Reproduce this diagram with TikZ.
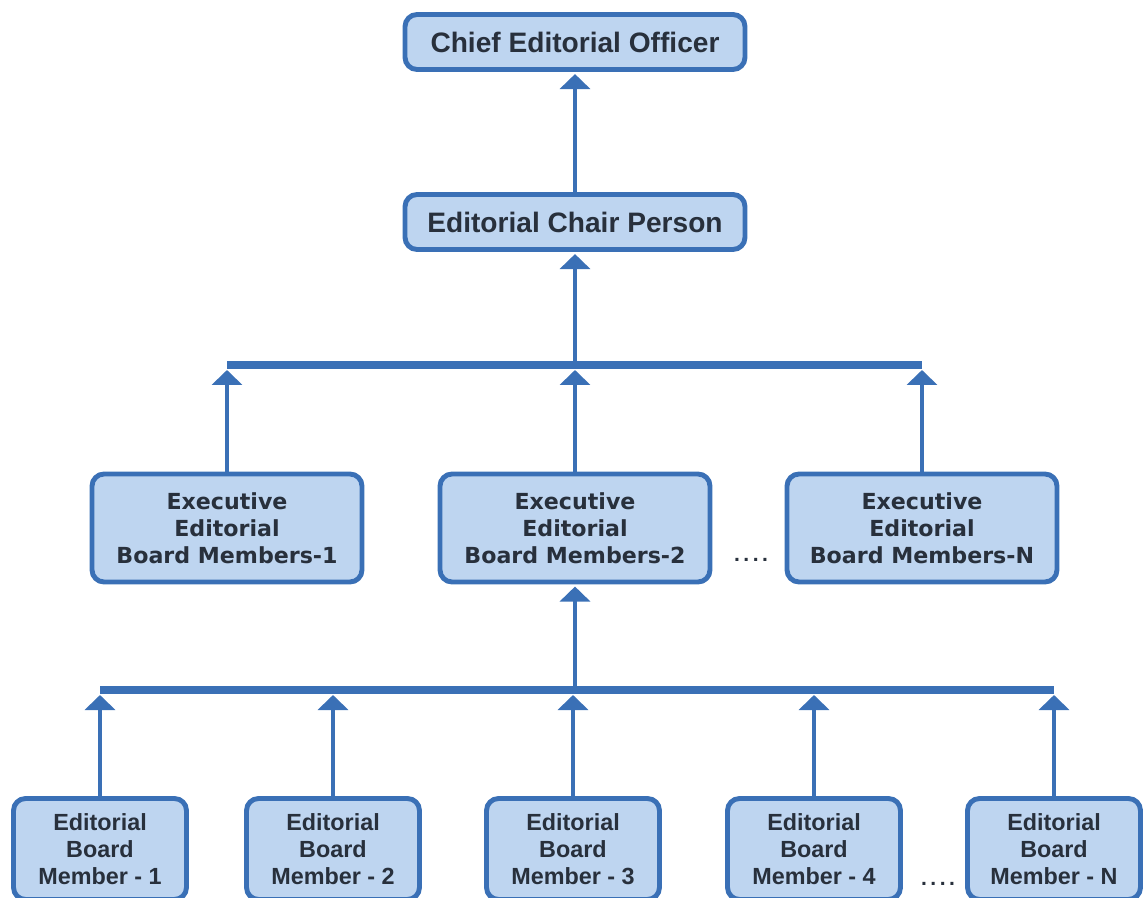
\documentclass[tikz,border=0pt]{standalone}
\usepackage{fontspec}
\setmainfont{Liberation Sans}
\newfontfamily\execfont{DejaVu Sans}
\usetikzlibrary{arrows.meta,positioning}
\definecolor{boxfill}{RGB}{190,213,240}
\definecolor{boxline}{RGB}{58,112,182}
\definecolor{boxtext}{RGB}{40,48,60}

\begin{document}
\begin{tikzpicture}[
    x=0.02cm, y=-0.02cm,
    box/.style={rectangle, draw=boxline, fill=boxfill, line width=2.8pt, rounded corners=0.24cm, align=center, text=boxtext},
    headbox/.style={box, minimum width=6.8cm, minimum height=1.1cm, font=\bfseries\fontsize{16}{19}\selectfont},
    execbox/.style={box, minimum width=5.4cm, minimum height=2.16cm, font=\execfont\bfseries\fontsize{12.6}{15.5}\selectfont},
    memberbox/.style={box, minimum width=3.46cm, minimum height=2.02cm, font=\bfseries\fontsize{13.3}{15.4}\selectfont},
    arrow/.style={-{Triangle[width=0.6cm, length=0.3cm]}, line width=2.8pt, draw=boxline},
    bus/.style={line width=4.8pt, draw=boxline},
    dots/.style={text=boxtext, font=\bfseries\fontsize{12}{14}\selectfont}
]
    \useasboundingbox (0,0) rectangle (1146,898);

    \node[headbox] (CEO) at (575,42) {Chief Editorial Officer};
    \node[headbox] (chair) at (575,222) {Editorial Chair Person};

    \node[execbox] (E1) at (227,528) {Executive\\Editorial\\Board Members-1};
    \node[execbox] (E2) at (575,528) {Executive\\Editorial\\Board Members-2};
    \node[execbox] (EN) at (922,528) {Executive\\Editorial\\Board Members-N};
    \node[dots] (Edots) at (751,560) {.\kern2pt.\kern2pt.\kern2pt.};

    \node[memberbox] (M1) at (100,849) {Editorial\\Board\\Member - 1};
    \node[memberbox] (M2) at (333,849) {Editorial\\Board\\Member - 2};
    \node[memberbox] (M3) at (573,849) {Editorial\\Board\\Member - 3};
    \node[memberbox] (M4) at (814,849) {Editorial\\Board\\Member - 4};
    \node[memberbox] (MN) at (1054,849) {Editorial\\Board\\Member - N};
    \node[dots] (Mdots) at (938,884) {.\kern2pt.\kern2pt.\kern2pt.};

    \coordinate (busA) at (575,365);
    \coordinate (busB) at (575,690);

    % chair -> chief
    \draw[arrow, shorten >=1.2pt] (chair) -- (CEO);

    % executive level
    \draw[bus] (E1.north |- busA) -- (EN.north |- busA);
    \draw[arrow, shorten >=1.2pt] (busA) -- (chair.south);
    \draw[arrow, shorten >=0.1cm] (E1.north) -- (E1.north |- busA);
    \draw[arrow, shorten >=0.1cm] (E2.north) -- (E2.north |- busA);
    \draw[arrow, shorten >=0.1cm] (EN.north) -- (EN.north |- busA);

    % member level
    \draw[bus] (M1.north |- busB) -- (MN.north |- busB);
    \draw[arrow, shorten >=1.2pt] (busB) -- (E2.south);
    \draw[arrow, shorten >=0.1cm] (M1.north) -- (M1.north |- busB);
    \draw[arrow, shorten >=0.1cm] (M2.north) -- (M2.north |- busB);
    \draw[arrow, shorten >=0.1cm] (M3.north) -- (M3.north |- busB);
    \draw[arrow, shorten >=0.1cm] (M4.north) -- (M4.north |- busB);
    \draw[arrow, shorten >=0.1cm] (MN.north) -- (MN.north |- busB);
\end{tikzpicture}
\end{document}
